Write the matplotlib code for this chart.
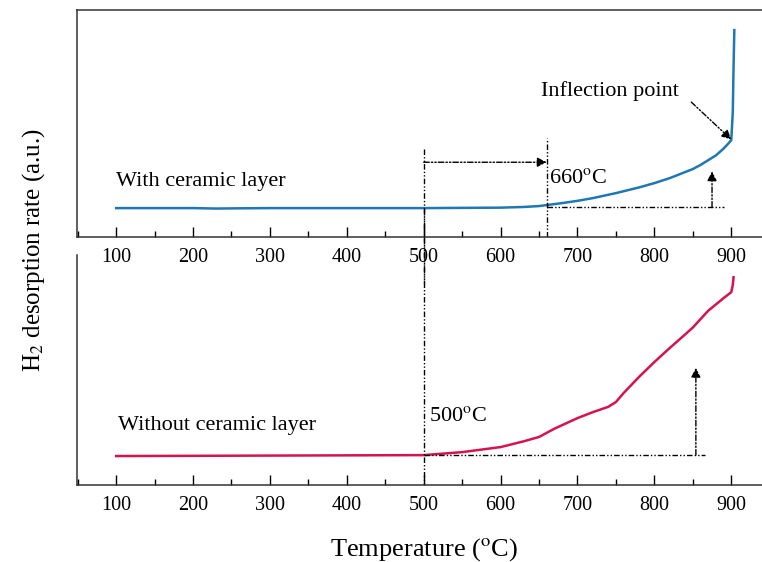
import numpy as np
import matplotlib
matplotlib.use('Agg')
import matplotlib.pyplot as plt
from matplotlib.ticker import MultipleLocator

plt.rcParams['font.family'] = ['Liberation Serif', 'DejaVu Serif']
plt.rcParams['mathtext.fontset'] = 'stix'

# with ceramic layer (blue)
temp_with = [100, 200, 230, 260, 300, 400, 500, 600, 630, 650, 680, 700, 720, 750, 780, 800, 820, 850, 860, 880, 890, 895, 900, 902, 903, 904]
rate_with = [0.128, 0.128, 0.126, 0.127, 0.128, 0.128, 0.128, 0.130, 0.133, 0.137, 0.150, 0.160, 0.172, 0.194, 0.219, 0.238, 0.260, 0.300, 0.318, 0.360, 0.390, 0.408, 0.427, 0.55, 0.75, 0.912]

# without ceramic layer (red)
temp_without = [100, 300, 500, 550, 600, 630, 650, 670, 700, 720, 740, 750, 760, 780, 800, 820, 840, 850, 870, 890, 900, 902, 903]
rate_without = [0.126, 0.128, 0.130, 0.143, 0.165, 0.190, 0.209, 0.245, 0.291, 0.317, 0.340, 0.361, 0.400, 0.470, 0.535, 0.596, 0.655, 0.685, 0.758, 0.813, 0.839, 0.87, 0.904]

xticks = [100, 200, 300, 400, 500, 600, 700, 800, 900]

fig = plt.figure(figsize=(7.62, 5.62), dpi=100)
ax1 = fig.add_axes([0.101, 0.578, 0.899, 0.404])
ax2 = fig.add_axes([0.101, 0.137, 0.899, 0.409])
ax2.patch.set_visible(False)
ax1.patch.set_visible(False)

ax1.plot(temp_with, rate_with, color='#1f77b4', lw=1.8)
ax2.plot(temp_without, rate_without, color='#d6134f', lw=1.8)

for ax in (ax1, ax2):
    ax.set_xlim(49, 940)
    ax.set_ylim(0, 1)
    ax.set_xticks(xticks)
    ax.xaxis.set_minor_locator(MultipleLocator(50))
    ax.set_yticks([])
    ax.spines['right'].set_visible(False)
    ax.tick_params(axis='x', which='major', direction='in', length=7, width=1, labelsize=14.5, pad=8)
    ax.tick_params(axis='x', which='minor', direction='in', length=4, width=1)
    for s in ax.spines.values():
        s.set_linewidth(1.1)
        s.set_color('#333333')
ax2.spines['top'].set_visible(False)

dd = dict(color='black', lw=1.0, ls=(0, (4, 1.5, 1, 1.5, 1, 1.5)))
arr = dict(arrowstyle='-|>', color='black', lw=1.0, ls=(0, (4, 1.5, 1, 1.5, 1, 1.5)), mutation_scale=14, shrinkA=0, shrinkB=0)

# top panel guides
ax1.plot([660, 660], [0, 0.435], **dd)
ax1.annotate('', xy=(660, 0.33), xytext=(500, 0.33), arrowprops=arr)
ax1.plot([660, 890], [0.132, 0.132], **dd)
ax1.annotate('', xy=(875, 0.29), xytext=(875, 0.132), arrowprops=arr)
ax1.annotate('', xy=(900, 0.43), xytext=(848, 0.595), arrowprops=arr)
ax1.text(653, 0.62, 'Inflection point', fontsize=16)
ax1.text(663, 0.24, '660$^{\\rm o}$C', fontsize=16)
ax1.text(100, 0.225, 'With ceramic layer', fontsize=16)

# vertical 500 line across both panels
ax1.plot([500, 500], [0.39, -0.2], clip_on=False, **dd)
ax2.plot([500, 500], [1.2, 0], clip_on=False, **dd)

# bottom panel guides
ax2.plot([500, 866], [0.130, 0.130], **dd)
ax2.annotate('', xy=(854, 0.51), xytext=(854, 0.130), arrowprops=arr)
ax2.text(507, 0.28, '500$^{\\rm o}$C', fontsize=16)
ax2.text(102, 0.24, 'Without ceramic layer', fontsize=16)

fig.text(0.557, 0.012, 'Temperature ($^{\\rm o}$C)', fontsize=19, ha='center')
fig.text(0.044, 0.555, 'H$_{2}$ desorption rate (a.u.)', fontsize=18, rotation=90, va='center', ha='center')

fig.savefig('out.png', dpi=100)
